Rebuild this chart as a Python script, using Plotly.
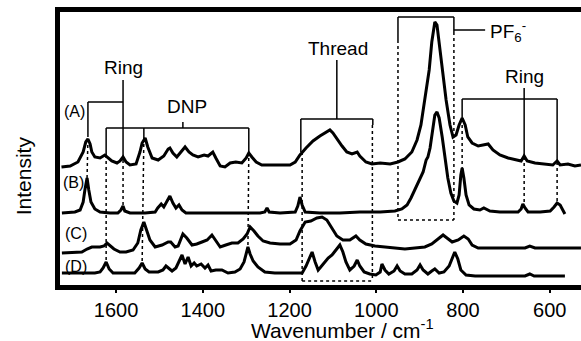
import plotly.graph_objects as go

# ---------------- data (wavenumber / cm-1, displayed intensity incl. stacking offset) ----------------
wn_A = [1726, 1706, 1688, 1676, 1670, 1665, 1660, 1656, 1649, 1637, 1626, 1619, 1610, 1598, 1591, 1584,
        1577, 1568, 1554, 1545, 1540, 1533, 1527, 1517, 1503, 1490, 1480, 1476, 1469, 1460, 1450, 1441,
        1432, 1423, 1411, 1397, 1388, 1377, 1370, 1360, 1349, 1337, 1324, 1310, 1300, 1294, 1287, 1277,
        1264, 1245, 1222, 1199, 1187, 1176, 1162, 1146, 1130, 1116, 1107, 1100, 1091, 1079, 1068, 1056,
        1044, 1038, 1024, 1010, 991, 968, 950, 934, 918, 906, 897, 888, 878, 872, 865, 860, 853, 846, 839,
        830, 823, 816, 809, 802, 795, 789, 779, 765, 752, 742, 731, 715, 696, 680, 666, 659, 652, 634, 611,
        593, 583, 576, 558, 542, 528]
int_A = [118, 119, 123, 133, 143, 146, 141, 133, 128, 127, 130, 127, 124, 122, 124, 128,
         123, 120, 121, 133, 142, 147, 138, 127, 125, 129, 136, 137, 132, 128, 133, 138,
         133, 130, 128, 130, 129, 133, 127, 119, 118, 122, 123, 122, 127, 132, 128, 123,
         120, 120, 120, 120, 123, 130, 137, 144, 149, 153, 155, 152, 146, 139, 133, 131,
         133, 129, 123, 121, 122, 121, 123, 126, 133, 145, 160, 185, 215, 243, 263, 260, 235, 210, 185,
         160, 148, 150, 160, 167, 160, 148, 142, 139, 140, 141, 135, 130, 127, 125, 124, 129, 124, 122, 121,
         120, 124, 120, 121, 119, 120]

wn_B = [1725, 1695, 1683, 1676, 1672, 1667, 1663, 1658, 1649, 1637, 1614, 1596, 1589, 1584, 1580, 1568,
        1533, 1510, 1504, 1496, 1490, 1483, 1476, 1469, 1462, 1455, 1448, 1439, 1407, 1360, 1314, 1268,
        1257, 1252, 1247, 1222, 1187, 1181, 1176, 1171, 1164, 1130, 1084, 1038, 991, 957, 941, 929, 920,
        911, 902, 892, 885, 881, 876, 869, 865, 860, 855, 848, 842, 835, 828, 821, 814, 809, 805, 802,
        798, 793, 786, 775, 761, 752, 738, 715, 692, 673, 666, 662, 657, 650, 622, 599, 590, 583, 576,
        569, 565]
int_B = [72, 73, 75, 83, 95, 107, 95, 83, 76, 73, 72, 72, 75, 79, 74, 72,
         72, 73, 77, 81, 78, 84, 89, 82, 77, 80, 75, 72, 72, 72, 72, 72,
         73, 77, 73, 72, 73, 79, 88, 80, 73, 72, 72, 73, 73, 74, 76, 80, 87,
         95, 103, 113, 125, 128, 137, 157, 170, 173, 167, 148, 127, 107, 92, 84, 82, 90, 110, 117,
         107, 90, 80, 76, 75, 77, 74, 73, 73, 73, 76, 81, 77, 73, 73, 74, 78, 82, 80,
         75, 71]

wn_C = [1725, 1695, 1679, 1667, 1656, 1637, 1628, 1621, 1614, 1605, 1591, 1577, 1561, 1550, 1543, 1536,
        1529, 1522, 1510, 1494, 1480, 1474, 1464, 1457, 1446, 1437, 1425, 1414, 1402, 1390, 1379, 1370,
        1360, 1347, 1333, 1319, 1307, 1298, 1291, 1282, 1273, 1261, 1245, 1222, 1199, 1185, 1176, 1164,
        1151, 1137, 1125, 1114, 1102, 1091, 1077, 1061, 1047, 1038, 1024, 1003, 980, 957, 934, 911, 888,
        872, 858, 846, 837, 825, 811, 798, 788, 779, 765, 738, 692, 657, 646, 634, 599, 565, 528]
int_C = [32, 33, 33, 36, 38, 38, 39, 42, 39, 36, 33, 33, 35, 42, 55, 63,
         54, 45, 38, 40, 43, 43, 38, 39, 51, 47, 40, 41, 43, 45, 50, 44,
         38, 40, 42, 42, 46, 51, 58, 54, 49, 44, 42, 41, 41, 45, 54, 63,
         64, 67, 68, 65, 57, 49, 45, 45, 49, 45, 41, 39, 38, 37, 36, 37, 38,
         41, 46, 50, 47, 43, 45, 49, 46, 40, 37, 37, 37, 37, 39, 37, 37, 37, 37]

wn_D = [1725, 1683, 1649, 1637, 1630, 1623, 1616, 1607, 1580, 1557, 1547, 1540, 1533, 1524, 1503, 1492,
        1485, 1480, 1471, 1462, 1457, 1448, 1441, 1434, 1427, 1420, 1414, 1404, 1395, 1388, 1381, 1370,
        1356, 1342, 1326, 1314, 1305, 1300, 1296, 1291, 1284, 1273, 1257, 1234, 1199, 1171, 1162, 1155,
        1148, 1141, 1134, 1128, 1118, 1111, 1102, 1093, 1084, 1077, 1070, 1061, 1051, 1044, 1038, 1028,
        1015, 1001, 991, 987, 980, 971, 959, 952, 945, 934, 918, 906, 899, 892, 881, 872, 865, 855, 844,
        832, 823, 819, 812, 805, 793, 772, 738, 692, 657, 646, 636, 599, 565]
int_D = [12, 12, 12, 13, 17, 23, 16, 12, 12, 12, 17, 22, 16, 13, 13, 15,
         19, 17, 14, 17, 22, 30, 21, 28, 19, 22, 19, 21, 17, 20, 14, 15,
         15, 12, 13, 16, 23, 32, 38, 31, 24, 18, 13, 12, 12, 12, 19, 27,
         33, 23, 15, 18, 24, 27, 30, 35, 40, 33, 23, 15, 19, 25, 19, 13,
         11, 10, 13, 21, 15, 11, 14, 19, 14, 11, 11, 15, 20, 15, 11, 14, 16, 12, 13,
         19, 30, 33, 26, 15, 10, 9, 9, 9, 9, 11, 9, 9, 9]

spectra_names = ["(A)", "(B)", "(C)", "(D)"]
x_ticks = [1600, 1400, 1200, 1000, 800, 600]
x_title = "Wavenumber / cm<sup>-1</sup>"
y_title = "Intensity"

FONT = "Liberation Sans, Arial, Helvetica, sans-serif"

fig = go.Figure()
for wn, it in [(wn_A, int_A), (wn_B, int_B), (wn_C, int_C), (wn_D, int_D)]:
    fig.add_trace(go.Scatter(x=wn, y=it, mode="lines",
                             line=dict(color="black", width=3),
                             showlegend=False, hoverinfo="skip"))

# ---------------- annotation geometry (brackets / guide lines) ----------------
solid_segments = [
    # Ring (left)
    (1584, 205, 1584, 125), (1665, 183, 1584, 183), (1665, 183, 1665, 148),
    # DNP
    (1446, 163, 1446, 157), (1623, 157, 1294, 157), (1623, 157, 1623, 130),
    (1536, 157, 1536, 147), (1294, 157, 1294, 133),
    # Thread
    (1091, 225, 1091, 166), (1174, 166, 1008, 166), (1174, 166, 1174, 133), (1008, 166, 1008, 160),
    # PF6-
    (950, 268, 821, 268), (950, 268, 950, 245), (821, 268, 821, 253), (821, 255, 749, 255),
    # Ring (right)
    (659, 197, 659, 128), (802, 186, 583, 186), (802, 186, 802, 167), (583, 186, 583, 123),
]
dotted_segments = [
    (1665, 146, 1667, 107),
    (1623, 130, 1623, 23),
    (1584, 125, 1584, 79),
    (1536, 147, 1540, 22),
    (1294, 133, 1296, 38),
    (1171, 133, 1171, 4), (1009, 160, 1009, 4), (1171, 4, 1009, 4),
    (950, 245, 950, 65), (821, 253, 821, 65), (950, 65, 821, 65),
    (802, 160, 802, 117),
    (659, 128, 659, 81),
    (583, 123, 583, 82),
]
shapes = []
for x0, y0, x1, y1 in solid_segments:
    shapes.append(dict(type="line", xref="x", yref="y", x0=x0, y0=y0, x1=x1, y1=y1,
                       line=dict(color="black", width=1.5)))
for x0, y0, x1, y1 in dotted_segments:
    shapes.append(dict(type="line", xref="x", yref="y", x0=x0, y0=y0, x1=x1, y1=y1,
                       line=dict(color="black", width=1.5, dash="dot")))

annots = []
def txt(x, y, s, size=19, xanchor="center", xref="x", yref="y", angle=0):
    annots.append(dict(x=x, y=y, xref=xref, yref=yref, text=s, showarrow=False,
                       xanchor=xanchor, yanchor="middle", textangle=angle,
                       font=dict(family=FONT, size=size, color="black")))

txt(1582, 218, "Ring")
txt(1437, 179, "DNP")
txt(1088, 237, "Thread")
txt(742, 254, "PF<sub>6</sub><sup>-</sup>", xanchor="left")
txt(659, 209, "Ring")
label_pos = [(1697, 174), (1699, 103), (1692, 52), (1692, 19)]
for name, (lx, ly) in zip(spectra_names, label_pos):
    txt(lx, ly, name, size=16)
txt(1079, -0.16, x_title, size=21, yref="paper")
txt(-0.07, 0.40, y_title, size=21, xref="paper", yref="paper", angle=-90)

fig.update_layout(
    template="none",
    width=581, height=341,
    margin=dict(l=60, r=0, t=12, b=56, pad=0),
    paper_bgcolor="white", plot_bgcolor="white",
    font=dict(family=FONT, color="black"),
    shapes=shapes, annotations=annots,
    showlegend=False, hovermode=False,
)
fig.update_xaxes(range=[1729.4, 527.9], tickvals=x_ticks, ticktext=[str(t) for t in x_ticks],
                 tickfont=dict(size=20, family=FONT, color="black"),
                 showline=True, linewidth=5, linecolor="black", mirror=True,
                 ticks="outside", ticklen=3, tickwidth=2, tickcolor="black",
                 showgrid=False, zeroline=False, automargin=False)
fig.update_yaxes(range=[0, 273], showticklabels=False, ticks="",
                 showline=True, linewidth=5, linecolor="black", mirror=False,
                 showgrid=False, zeroline=False, automargin=False)

fig.write_html("out.html", config={"displayModeBar": False},
               post_script="document.body.style.margin='0';document.body.style.overflow='hidden';")
